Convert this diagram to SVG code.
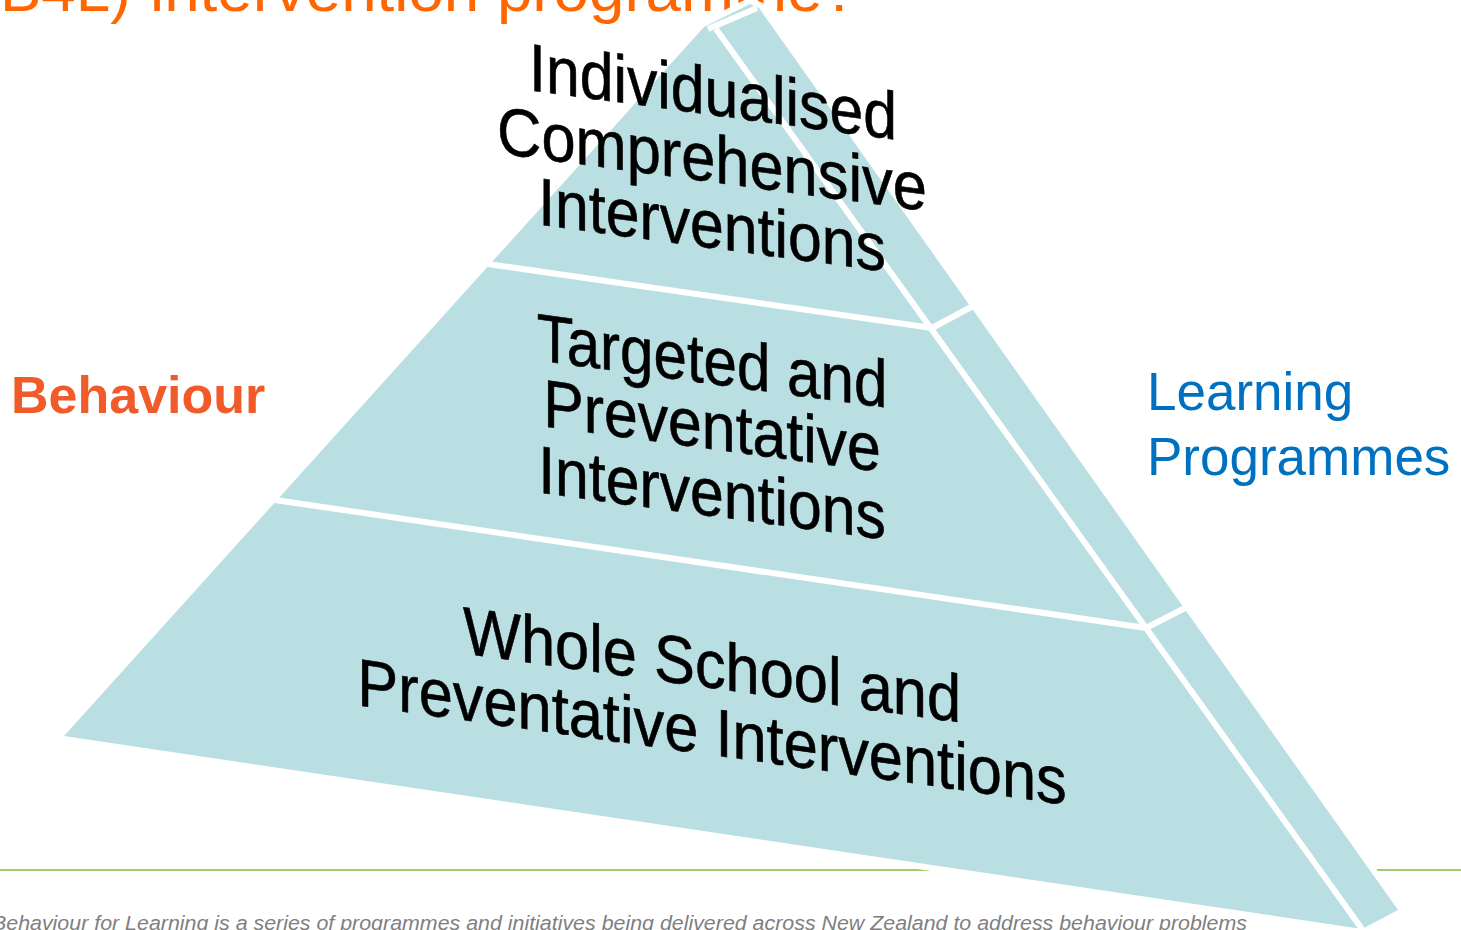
<svg xmlns="http://www.w3.org/2000/svg" width="1461" height="930" viewBox="0 0 1461 930">
<style>
.face{fill:#b9dfe3;}
.div{stroke:#ffffff;stroke-width:6;fill:none;stroke-linecap:butt;}
.tier{font-family:"Liberation Sans",Arial,sans-serif;font-size:66px;fill:#000000;stroke:#000000;stroke-width:0.6;text-anchor:middle;}
</style>
<rect x="0" y="0" width="1461" height="930" fill="#ffffff"/>
<g id="title">
<text x="0" y="11" font-family="Liberation Sans, Arial, sans-serif" font-size="62" fill="#ff6600"><tspan x="0">B4L)</tspan><tspan x="150" textLength="708" lengthAdjust="spacingAndGlyphs">intervention programme?</tspan></text>
</g>
<g id="footer-rule">
<line x1="0" y1="870" x2="1461" y2="870" stroke="#7ac143" stroke-width="1.5"/>
</g>
<g id="footer">
<text x="-8" y="930" font-family="Liberation Sans, Arial, sans-serif" font-size="20" font-style="italic" fill="#7f7f7f" textLength="1255" lengthAdjust="spacingAndGlyphs">Behaviour for Learning is a series of programmes and initiatives being delivered across New Zealand to address behaviour problems</text>
</g>
<g id="pyramid">
<polygon points="704,27 750,4 759,8 1398,910 1362,929 64,736" fill="#ffffff" stroke="#ffffff" stroke-width="12" stroke-linejoin="round"/>
<polygon class="face" points="704,27 750,4 759,8 1398,910 1362,929 64,736"/>
</g>
<g id="connectors">
<line class="div" x1="708" y1="29" x2="757" y2="8"/>
<line class="div" x1="716" y1="29" x2="1362" y2="929"/>
<line class="div" x1="488" y1="264" x2="932" y2="328"/>
<line class="div" x1="932" y1="328" x2="973" y2="306"/>
<line class="div" x1="275" y1="500" x2="1146" y2="628"/>
<line class="div" x1="1146" y1="628" x2="1187" y2="607"/>
</g>
<g id="tier-top">
<text class="tier" transform="translate(713,115) skewY(7.7) scale(0.92,1.02)">Individualised</text>
<text class="tier" transform="translate(712,182) skewY(7.7) scale(0.93,1.02)">Comprehensive</text>
<text class="tier" transform="translate(712,248) skewY(7.7) scale(0.92,1.02)">Interventions</text>
</g>
<g id="tier-middle">
<text class="tier" transform="translate(712,384) skewY(7.7) scale(0.91,1.02)">Targeted and</text>
<text class="tier" transform="translate(712,449) skewY(7.7) scale(0.92,1.02)">Preventative</text>
<text class="tier" transform="translate(712,516) skewY(7.7) scale(0.92,1.02)">Interventions</text>
</g>
<g id="tier-bottom">
<text class="tier" transform="translate(712,688) skewY(7.9) scale(0.93,1.02)">Whole School and</text>
<text class="tier" transform="translate(712,755) skewY(8) scale(0.93,1.02)">Preventative Interventions</text>
</g>
<g id="label-behaviour">
<text x="11" y="413" font-family="Liberation Sans, Arial, sans-serif" font-size="52" font-weight="bold" fill="#f15a29">Behaviour</text>
</g>
<g id="label-learning">
<text font-family="Liberation Sans, Arial, sans-serif" font-size="53" fill="#0070c0"><tspan x="1147" y="410">Learning</tspan><tspan x="1147" y="475">Programmes</tspan></text>
</g>
</svg>
